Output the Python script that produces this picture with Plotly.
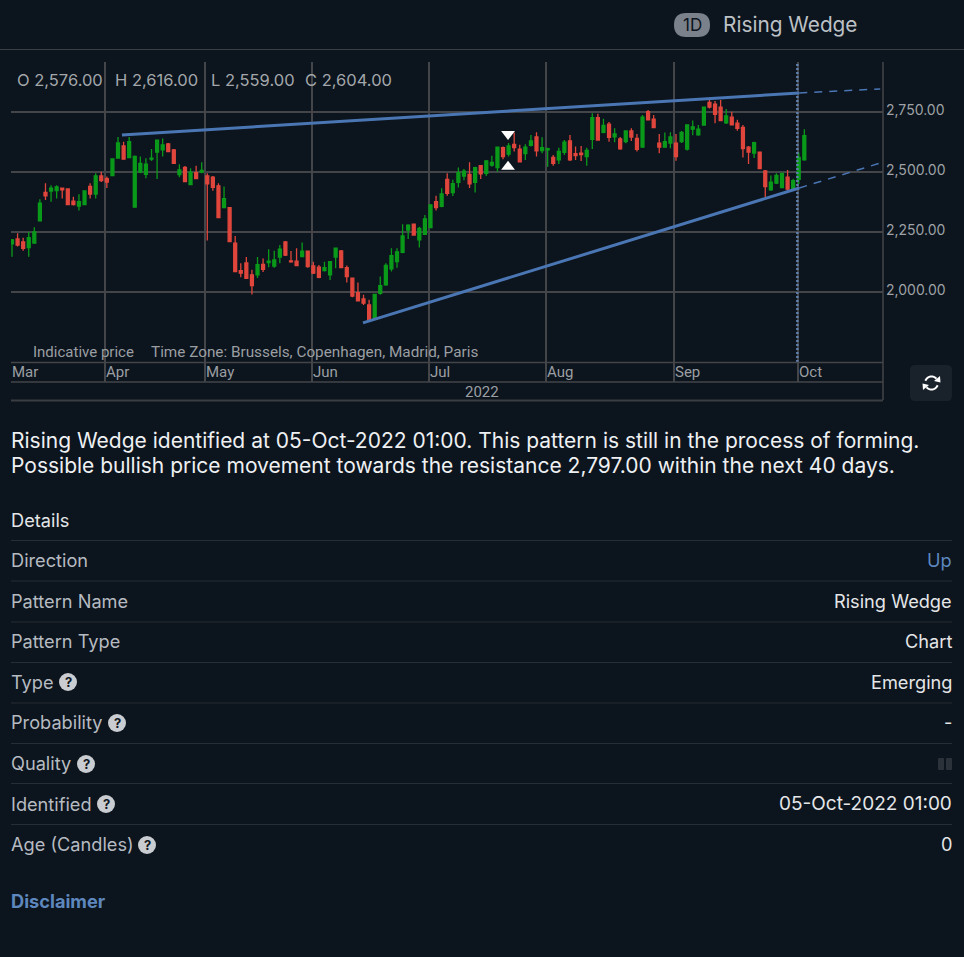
import math
import plotly.graph_objects as go

W, H = 964, 957
BG = "#0c141d"
GRID = "#434548"
RULE = "#272d34"
BLUE = "#4a76b4"
UP = "#0a9a1a"
DOWN = "#e0463c"

open_ = [2200,2221,2208,2185,2203,2296,2415,2420,2422,2432,2429,2378,2358,2364,2440,2408,2483,2472,2485,2558,
         2608,2560,2353,2499,2490,2553,2583,2592,2617,2592,2489,2519,2447,2497,2499,2483,2478,2442,2351,2351,
         2203,2089,2121,2071,2071,2115,2122,2108,2145,2208,2129,2128,2147,2170,2108,2103,2089,2071,2145,2171,
         2101,2057,1997,1971,1946,1890,1994,2029,2096,2126,2165,2258,2282,2217,2240,2268,2376,2357,2469,2414,
         2457,2483,2490,2457,2526,2494,2528,2518,2601,2574,2615,2595,2576,2611,2646,2589,2592,2560,2550,2582,
         2629,2576,2578,2564,2636,2726,2665,2699,2646,2638,2626,2671,2640,2603,2751,2720,2620,2603,2620,2620,
         2626,2595,2678,2654,2695,2790,2782,2770,2704,2728,2703,2685,2603,2578,2582,2504,2425,2453,2435,2478,
         2432,2469,2550]
high = [2220,2244,2226,2251,2269,2386,2453,2444,2444,2434,2432,2397,2407,2421,2453,2494,2501,2481,2557,2645,
        2626,2645,2568,2564,2557,2595,2633,2639,2620,2595,2532,2525,2515,2526,2540,2494,2483,2453,2439,2351,
        2233,2119,2145,2092,2145,2139,2178,2172,2195,2212,2171,2182,2206,2172,2126,2112,2126,2126,2184,2175,
        2110,2057,2039,1988,1967,1990,2064,2119,2182,2182,2282,2282,2283,2272,2321,2363,2401,2432,2494,2467,
        2518,2512,2540,2522,2529,2550,2567,2603,2606,2620,2664,2613,2615,2654,2665,2644,2601,2571,2601,2633,
        2654,2606,2608,2601,2744,2742,2722,2708,2682,2645,2671,2682,2658,2737,2758,2737,2658,2664,2665,2658,
        2671,2696,2714,2695,2772,2800,2796,2800,2762,2751,2717,2696,2608,2626,2582,2508,2485,2494,2497,2508,
        2472,2581,2678]
low = [2147,2189,2172,2147,2203,2296,2383,2376,2389,2389,2364,2360,2339,2364,2389,2389,2458,2433,2485,2558,
       2553,2560,2353,2494,2474,2546,2471,2564,2582,2533,2478,2457,2446,2469,2494,2214,2422,2310,2351,2210,
       2085,2061,2054,1989,2058,2083,2103,2101,2119,2150,2122,2107,2145,2101,2075,2057,2085,2050,2099,2101,
       2039,1978,1960,1946,1876,1883,1988,2026,2085,2101,2161,2221,2235,2185,2237,2265,2339,2353,2401,2400,
       2435,2465,2433,2414,2471,2483,2522,2501,2553,2564,2585,2539,2550,2606,2564,2578,2522,2526,2533,2571,
       2546,2550,2546,2526,2596,2633,2661,2626,2624,2592,2619,2629,2585,2601,2714,2683,2578,2601,2599,2547,
       2620,2589,2653,2651,2692,2764,2703,2712,2700,2693,2672,2560,2533,2558,2513,2394,2422,2450,2432,2422,
       2428,2450,2547]
close = [2217,2195,2182,2226,2250,2370,2400,2432,2438,2425,2364,2364,2376,2421,2408,2483,2464,2458,2554,2621,
         2553,2626,2565,2536,2532,2557,2632,2613,2585,2536,2508,2460,2499,2472,2506,2450,2436,2310,2389,2210,
         2085,2078,2057,2026,2114,2094,2128,2133,2178,2153,2125,2110,2170,2106,2078,2061,2101,2126,2182,2101,
         2064,1983,1963,1953,1881,1990,2026,2110,2151,2167,2233,2278,2237,2265,2304,2363,2351,2408,2411,2451,
         2497,2503,2450,2518,2492,2546,2540,2603,2564,2608,2601,2542,2603,2629,2588,2601,2597,2536,2585,2624,
         2550,2568,2572,2590,2726,2633,2694,2644,2658,2596,2671,2645,2594,2728,2717,2685,2603,2626,2646,2564,
         2665,2696,2688,2678,2770,2770,2740,2714,2733,2696,2682,2597,2583,2622,2514,2439,2457,2485,2494,2428,
         2464,2560,2651]

month_labels = ["Mar","Apr","May","Jun","Jul","Aug","Sep","Oct"]
month_positions = [-0.1,16.67,34.6,53.76,74.8,95.7,118.6,140.8]
price_ticks = [2000,2250,2500,2750]

resistance_x = [19.7,141.1]
resistance_y = [2654,2829]
resistance_proj_x = [141.1,155.6]
resistance_proj_y = [2829,2846]
support_x = [62.9,141.1]
support_y = [1871,2433]
support_proj_x = [141.1,155.6]
support_proj_y = [2433,2537]
marker_x = [88.9]
marker_top = [2658]
marker_bottom = [2522]
forming_x = [140.75,140.75]
forming_y = [1708,2958]

ohlc_labels = ["O 2,576.00","H 2,616.00","L 2,559.00","C 2,604.00"]
summary_lines = ["Rising Wedge identified at 05-Oct-2022 01:00. This pattern is still in the process of forming.",
                 "Possible bullish price movement towards the resistance 2,797.00 within the next 40 days."]
row_labels = ["Direction","Pattern Name","Pattern Type","Type","Probability","Quality","Identified","Age (Candles)"]
row_values = ["Up","Rising Wedge","Chart","Emerging","-","","05-Oct-2022 01:00","0"]

def px(x): return x / W
def py(y): return 1 - y / H

fig = go.Figure()
x_index = list(range(len(open_)))
fig.add_trace(go.Candlestick(
    x=x_index, open=open_, high=high, low=low, close=close,
    increasing=dict(line=dict(color=UP, width=1.3), fillcolor=UP),
    decreasing=dict(line=dict(color=DOWN, width=1.3), fillcolor=DOWN),
    whiskerwidth=0, hoverinfo="skip", showlegend=False))

def line(x, y, dash="solid", width=3, color=BLUE):
    fig.add_trace(go.Scatter(x=x, y=y, mode="lines", hoverinfo="skip", showlegend=False,
                             line=dict(color=color, width=width, dash=dash)))

line(forming_x, forming_y, dash="2px,2px", width=2.5, color="#5f7fae")
line(resistance_x, resistance_y)
line(support_x, support_y)
line(resistance_proj_x, resistance_proj_y, dash="8px,7px", width=1.5)
line(support_proj_x, support_proj_y, dash="8px,7px", width=1.5)
fig.add_trace(go.Scatter(x=marker_x, y=marker_top, mode="markers", hoverinfo="skip", showlegend=False,
                         marker=dict(symbol="triangle-down", size=12, color="white")))
fig.add_trace(go.Scatter(x=marker_x, y=marker_bottom, mode="markers", hoverinfo="skip", showlegend=False,
                         marker=dict(symbol="triangle-up", size=12, color="white")))

shapes, ann = [], []

def text(x, y, s, size=18, color="#c8ccd0", anchor="left", font="Inter", **kw):
    shift = {"left": -2, "right": 2, "center": 0}[anchor]
    ann.append(dict(xref="paper", yref="paper", x=px(x), y=py(y - 1), text=s, showarrow=False,
                    xanchor=anchor, yanchor="middle", xshift=shift, align=anchor,
                    font=dict(family=font, size=size, color=color), **kw))

def hline(x0, x1, y, color=RULE, width=1):
    shapes.append(dict(type="line", xref="paper", yref="paper", x0=px(x0), x1=px(x1), y0=py(y), y1=py(y),
                       line=dict(color=color, width=width), layer="above"))

def vline(x, y0, y1, color=GRID, width=1.5):
    shapes.append(dict(type="line", xref="paper", yref="paper", x0=px(x), x1=px(x), y0=py(y0), y1=py(y1),
                       line=dict(color=color, width=width), layer="above"))

def rrect(x0, y0, x1, y1, r, color):
    P = lambda a, b: f"{px(a):.5f},{py(b):.5f}"
    d = (f"M{P(x0+r,y0)} L{P(x1-r,y0)} Q{P(x1,y0)} {P(x1,y0+r)} L{P(x1,y1-r)} Q{P(x1,y1)} {P(x1-r,y1)} "
         f"L{P(x0+r,y1)} Q{P(x0,y1)} {P(x0,y1-r)} L{P(x0,y0+r)} Q{P(x0,y0)} {P(x0+r,y0)} Z")
    shapes.append(dict(type="path", xref="paper", yref="paper", path=d, fillcolor=color,
                       line=dict(width=0), layer="above"))

def arc(cx, cy, r, a0, a1, color="white", width=2):
    pts = []
    for k in range(13):
        a = math.radians(a0 + (a1 - a0) * k / 12)
        pts.append(f"{px(cx + r * math.cos(a)):.5f},{py(cy + r * math.sin(a)):.5f}")
    shapes.append(dict(type="path", xref="paper", yref="paper", path="M" + " L".join(pts),
                       line=dict(color=color, width=width), layer="above"))

def tri(a, b, c, color="white"):
    P = lambda q: f"{px(q[0]):.5f},{py(q[1]):.5f}"
    shapes.append(dict(type="path", xref="paper", yref="paper", path=f"M{P(a)} L{P(b)} L{P(c)} Z",
                       fillcolor=color, line=dict(width=0), layer="above"))

# header
hline(0, W, 49.5, "#3b4046", 1)
rrect(674, 13, 710, 37, 12, "#7b818a")
text(692, 26, "1D", size=17, color="#0c141d", anchor="center")
text(723, 25, "Rising Wedge", size=20.8, color="#bcc1c6")

# chart frame and labels
for lab, x in zip(ohlc_labels, [17, 115, 211, 305]):
    text(x, 81, lab, size=16.5, color="#a3a7ab")
text(33, 353, "Indicative price", size=15, color="#9b9fa3", font="Roboto")
text(151, 353, "Time Zone: Brussels, Copenhagen, Madrid, Paris", size=15.3, color="#9b9fa3", font="Roboto")
hline(11, 883, 362.5, GRID, 1.5)
hline(11, 883, 382, GRID, 1.5)
hline(11, 883, 400.5, "#3a3e43", 2)
vline(883, 62, 400, GRID, 1.5)
for lab, pos in zip(month_labels, month_positions):
    ann.append(dict(xref="x", yref="paper", x=pos, y=py(372), text=lab, showarrow=False, xanchor="left",
                    yanchor="middle", xshift=-1, font=dict(family="Roboto", size=15, color="#9b9fa3")))
text(482, 393, "2022", size=15, color="#9b9fa3", anchor="center", font="Roboto")

# reload button
rrect(910, 365, 952, 401, 5, "#19212a")
arc(931.5, 383, 6.5, 200, 320)
arc(931.5, 383, 6.5, 20, 140)
tri((940, 376), (940.5, 382.5), (934, 381))
tri((923, 390), (922.5, 383.5), (929, 385))

# summary
text(11, 441, summary_lines[0], size=21, color="#eef0f2")
text(11, 466, summary_lines[1], size=21, color="#eef0f2")

# details table
text(11, 521, "Details", size=18.2, color="#e4e6e8")
rule_y = [540.5, 581, 622, 662.5, 703, 743.5, 783.5, 824.5]
row_y = [561, 601.5, 642, 683, 723, 764, 804.5, 845]
for ry in rule_y:
    hline(11, 952, ry)
for lab, val, y in zip(row_labels, row_values, row_y):
    text(11, y, lab, size=18.2, color="#b6bbc1")
    text(952, y, val, size=19 if lab == "Identified" else 18.2,
         color="#5d87bd" if val == "Up" else "#e4e6e8", anchor="right")
for cx, cy in [(68, 682), (117, 723), (86, 764), (106, 804), (147, 845)]:
    shapes.append(dict(type="circle", xref="paper", yref="paper", x0=px(cx-9), x1=px(cx+9), y0=py(cy-9), y1=py(cy+9),
                       fillcolor="#c9ccd0", line=dict(width=0), layer="above"))
    text(cx, cy + 1, "<b>?</b>", size=13, color="#10161d", anchor="center")
rrect(938, 758, 944, 770, 1, "#2c3239")
rrect(946, 758, 952, 770, 1, "#2c3239")
text(11, 902, "<b>Disclaimer</b>", size=18.2, color="#5d87bd")

fig.update_layout(
    width=W, height=H, margin=dict(l=0, r=0, t=0, b=0), autosize=False,
    paper_bgcolor=BG, plot_bgcolor=BG, showlegend=False, boxgap=0.25,
    shapes=shapes, annotations=ann,
    font=dict(family="Inter"),
    xaxis=dict(domain=[px(11), px(883)], range=[-0.18, 156.1], rangeslider=dict(visible=False),
               tickvals=month_positions[1:], showticklabels=False, ticks="outside", ticklen=19,
               tickcolor=GRID, tickwidth=1.5, showgrid=True, gridcolor=GRID, gridwidth=1.5,
               zeroline=False, showline=False, anchor="y"),
    yaxis=dict(domain=[py(362), py(62)], range=[1708, 2958], side="right", tickvals=price_ticks,
               tickformat=",.2f", showgrid=True, gridcolor=GRID, gridwidth=1.5, zeroline=False,
               showline=False, ticks="", ticklabelstandoff=2, ticklabelshift=-2,
               tickfont=dict(family="Inter", size=14, color="#9ea2a6"), anchor="x"),
)
fig.write_html("out.html", config=dict(displayModeBar=False),
               post_script="document.body.style.margin='0';document.body.style.background='#0c141d';"
                           "document.documentElement.style.overflow='hidden';")
